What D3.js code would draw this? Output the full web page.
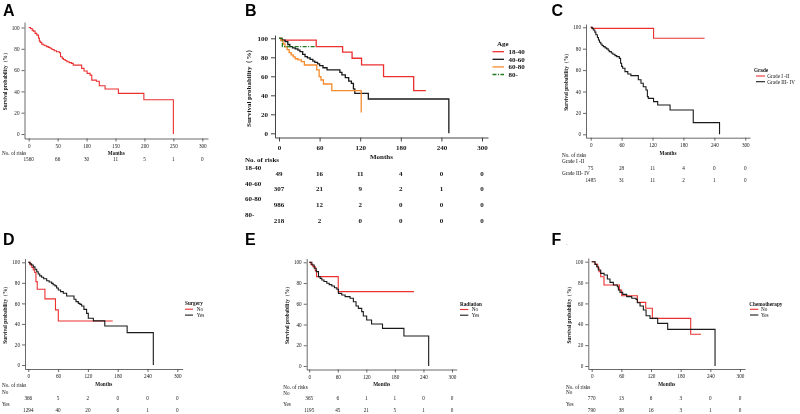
<!DOCTYPE html>
<html><head><meta charset="utf-8">
<script src="https://cdn.jsdelivr.net/npm/d3@7"></script>
<style>body{margin:0;background:#fff}svg{display:block;will-change:transform}svg text{opacity:0.99}</style>
</head><body>
<svg id="c" width="800" height="414"></svg>
<script>
// ---------- DATA ----------
const ticks50 = [0,50,100,150,200,250,300];
const ticks60 = [0,60,120,180,240,300];
const yTicks = [0,20,40,60,80,100];

// Panel A (overall)
const timeA = [0,3,6,8,11,14,17,18.4,20,22.5,25,28,31,34,37,40,44,48,53,55,58,60,63,66,70,74,77,91.5,95.6,101,106,109,117,122,132,155,199,250];
const survA = [100,99,97.5,96.6,94.5,92.8,90,87.2,86,84.4,83.5,82.8,82,81.3,80.5,79.4,78.2,77.2,76.3,72.5,71,70,69,67.8,67,66.3,64.7,61.6,59.1,56.9,55.3,50.6,49.5,45.3,42.2,38.1,32.2,0];
const riskA = ["1560","66","30","11","5","1","0"];

// Panel B (Age)
const timeB1 = [0,3,55,94,108,122,154.5,199,217];
const survB1 = [100,98,91.2,85.5,79,72,59.6,45,45];
const timeB2 = [0,4,9,13,16,20,24,28,31,35,38.5,42,46,50,53,57,60,65,71,90,93,98,103,107,110,112,132,251];
const survB2 = [100,98,96.5,93.5,91.2,90,88.8,87.5,86,83,80.7,79.5,77.9,76,74.7,73,71.2,69,66.7,64.2,61.4,58.6,55,52.6,46.7,42,36.1,0];
const timeB3 = [0,3,6,9,12,15,18,21,24,28,33,37.5,55.8,59.3,62,65.7,78,121.5];
const survB3 = [100,97.5,94,91,88,85,82.5,80.5,78.5,77.2,75.4,71.9,66.7,59.6,56.1,51.9,44.9,21.8];
const timeB4 = [0,5,55];
const survB4 = [100,91.2,91.2];
const groupsB = ["18-40","40-60","60-80","80-"];
const riskB = [["49","16","11","4","0","0"],["307","21","9","2","1","0"],["986","12","2","0","0","0"],["218","2","0","0","0","0"]];

// Panel C (Grade)
const timeC1 = [0,2,122,221];
const survC1 = [100,99,89.7,89.7];
const timeC2 = [0,3,5,8,10,13,15,17,19.5,22,24.5,28,31,34,36,40,43,47,50.5,55.5,58,60,62,66.5,72,78,92.4,97.6,102,107.3,110,111.8,122,130,154,199,250];
const survC2 = [100,99,97.5,95.5,93,90.5,88.2,86,84.4,83,81.9,80.8,79.8,78.5,77.3,76,74.8,73.5,72.6,71,66.4,63.5,61.7,58.6,56.4,54.8,51,47.7,44.5,41.4,35.2,33.6,30.5,27.4,22.7,10.9,0];
const groupsC = ["Grade I -II","Grade III- IV"];
const riskC = [["75","28","11","4","0","0"],["1485","31","11","2","1","0"]];

// Panel D (Surgery)
const timeD1 = [0,4,7,10,13,15.4,18,33.5,54.7,60.4,170];
const survD1 = [100,97.5,95,92.5,90,81.2,73.8,64.4,53.7,42.8,42.8];
const timeD2 = [0,3,6.7,10,13.4,17,20,23,26.8,31,37,42,47,50,53.7,57,60.4,65,70.5,77.2,92,96,100.7,104,107.4,112,117.4,120.8,131,154,199,251.7];
const survD2 = [100,98.5,97.4,95.5,93.2,90.8,88.6,86.8,85.4,84,82,80.8,79.5,78.2,77,75,73,71.4,69.8,67.2,64,61.7,60,59,57.5,54.2,50.3,45.5,43,38,31.5,0];
const groupsD = ["No","Yes"];
const riskD = [["366","5","2","0","0","0"],["1294","40","20","6","1","0"]];

// Panel E (Radiation)
const timeE1 = [0,3.5,7.7,12.6,15.4,61,220];
const survE1 = [100,98,95.8,92,86.2,71.7,71.7];
const timeE2 = [0,5.6,10.5,14.7,19.5,23,26.5,31,37,42,47.5,53,58,61.4,68.4,75.4,85.8,92.8,98.4,103.3,110.3,113.7,120.7,131,154,199,251];
const survE2 = [100,97.4,94.2,91,86.2,84.5,83,81.5,79.8,78.5,77.2,75.5,74,70,68.5,66.9,65.3,62,57.9,55.6,52.4,48.2,44.4,40.5,36.3,28.9,0];
const groupsE = ["No","Yes"];
const riskE = [["365","6","1","1","0","0"],["1195","45","21","5","1","0"]];

// Panel F (Chemotherapy)
const timeF1 = [0,6.7,12.1,14.8,18.2,24.9,56,60.7,92.4,109.2,122.7,200.3,221];
const survF1 = [100,97.4,94.2,90.4,85.6,77.6,72.8,67.4,61,55.3,45.7,30.4,30.4];
const timeF2 = [0,6.7,10.1,13.5,18.2,25,31.7,37,43.8,51.9,54,57.3,62.7,70.8,81,89.7,92.4,97.8,104.5,110,118,133.5,153.7,249.5];
const survF2 = [100,97.4,95.2,92,88.8,87.2,83.4,80.2,77.6,76,72.8,70.6,68.7,66.5,64.9,63.9,60.7,57.5,53.7,48.2,45.7,40.9,35.1,0];
const groupsF = ["No","Yes"];
const riskF = [["770","13","6","3","0","0"],["790","38","16","3","1","0"]];

// ---------- DRAW ----------
const svg = d3.select('#c');
const SERIF = '"Liberation Serif","Times New Roman",serif';
const SANS = '"Liberation Sans",Arial,sans-serif';
const RED = '#ec3030', BLACK = '#1a1a1a', ORANGE = '#f58b2e', GREEN = '#1f7a1f', AXIS = '#444';
const zip = (t,s) => t.map((v,i)=>[v,s[i]]);

function panel(o){
  const g = svg.append('g');
  const fs = o.fs, fw = o.bold ? 'bold' : 'normal';
  const x = d3.scaleLinear().domain([0,300]).range([o.x0,o.x300]);
  const y = d3.scaleLinear().domain([0,100]).range([o.y0,o.y100]);
  const xa = d3.scaleLinear().domain([x.invert(o.xL), x.invert(o.xR)]).range([o.xL,o.xR]);
  const ya = d3.scaleLinear().domain([y.invert(o.yB), y.invert(o.yT)]).range([o.yB,o.yT]);

  const gx = g.append('g').attr('transform',`translate(0,${o.yB})`)
    .call(d3.axisBottom(xa).tickValues(o.xticks).tickSize(o.tick).tickSizeOuter(0).tickPadding(o.xpad));
  const gy = g.append('g').attr('transform',`translate(${o.xL},0)`)
    .call(d3.axisLeft(ya).tickValues(yTicks).tickSize(o.tick).tickSizeOuter(0).tickPadding(o.ypad));
  [gx,gy].forEach(a=>{
    a.selectAll('path,line').attr('stroke',AXIS).attr('stroke-width',o.aw);
    a.selectAll('text').attr('font-family',SERIF).attr('font-size',fs).attr('font-weight',fw).attr('fill','#111');
  });

  // axis titles
  g.append('text').attr('x',(o.xL+o.xR)/2).attr('y',o.yB+o.mY).attr('dy','0.35em')
    .attr('text-anchor','middle').attr('font-family',SERIF).attr('font-size',fs).attr('font-weight','bold').attr('fill','#111').text('Months');
  g.append('text').attr('transform',`translate(${o.ytX},${(o.yT+o.yB)/2}) rotate(-90)`).attr('dy','0.35em')
    .attr('text-anchor','middle').attr('font-family',SERIF).attr('font-size',fs).attr('font-weight','bold').attr('fill','#111')
    .text('Survival probability（%）');

  // curves
  const line = d3.line().x(d=>x(d[0])).y(d=>y(d[1])).curve(d3.curveStepAfter);
  o.series.forEach(s=>{
    g.append('path').datum(zip(s.t,s.s)).attr('d',line).attr('fill','none')
      .attr('stroke',s.c).attr('stroke-width',o.lw).attr('stroke-dasharray',s.dash||null);
  });

  // legend
  if(o.legend){
    const L = o.legend;
    g.append('text').attr('x',L.x).attr('y',L.ty).attr('dy','0.35em').attr('font-family',SERIF)
      .attr('font-size',fs).attr('font-weight','bold').attr('fill','#111').text(L.title);
    L.items.forEach((name,i)=>{
      const yy = L.y0 + i*L.dy;
      g.append('line').attr('x1',L.lx1).attr('x2',L.lx2).attr('y1',yy).attr('y2',yy)
        .attr('stroke',o.series[i].c).attr('stroke-width',o.lw).attr('stroke-dasharray',o.series[i].dash||null);
      g.append('text').attr('x',L.tx).attr('y',yy).attr('dy','0.35em').attr('font-family',SERIF)
        .attr('font-size',fs).attr('font-weight',fw).attr('fill','#111').text(name);
    });
  }

  // risk table
  const R = o.risk;
  g.append('text').attr('x',R.x).attr('y',R.ty).attr('dy','0.35em').attr('font-family',SERIF)
    .attr('font-size',fs).attr('font-weight',fw).attr('fill','#111').text('No. of risks');
  R.rows.forEach((row,i)=>{
    if(R.labels) g.append('text').attr('x',R.x).attr('y',R.ly[i]).attr('dy','0.35em').attr('font-family',SERIF)
      .attr('font-size',fs).attr('font-weight',fw).attr('fill','#111').text(R.labels[i]);
    g.selectAll(null).data(row).enter().append('text')
      .attr('x',(d,j)=>x(o.xticks[j])).attr('y',R.ny[i]).attr('dy','0.35em').attr('text-anchor','middle')
      .attr('font-family',SERIF).attr('font-size',fs).attr('font-weight',fw).attr('fill','#111').text(d=>d);
  });

  // panel letter
  svg.append('text').attr('x',o.letter[1]).attr('y',o.letter[2]).attr('font-family',SANS)
    .attr('font-weight','bold').attr('font-size',16).attr('fill','#000').text(o.letter[0]);
}

const small = {fs:5.2, bold:false, tick:3, xpad:2.5, ypad:2, aw:0.8, lw:1.1, mY:15};

// A
panel(Object.assign({}, small, {
  x0:28.7, x300:202.3, xL:24.5, xR:208, y0:134, y100:27.5, yB:138.5, yT:22, ytX:5,
  xticks:ticks50,
  series:[{t:timeA,s:survA,c:RED}],
  risk:{x:2, ty:153.3, rows:[riskA], ny:[159.5]},
  letter:['A',3,16]
}));

// B
panel({
  fs:7, bold:true, tick:4, xpad:3.5, ypad:3, aw:1, lw:1.3, mY:19.2,
  x0:279, x300:482, xL:275, xR:488, y0:133.3, y100:38.3, yB:137.5, yT:35, ytX:249,
  xticks:ticks60,
  series:[{t:timeB1,s:survB1,c:RED},{t:timeB2,s:survB2,c:BLACK},{t:timeB3,s:survB3,c:ORANGE},{t:timeB4,s:survB4,c:GREEN,dash:'4,1.5,1,1.5'}],
  legend:{title:'Age', x:497, ty:44, y0:51.7, dy:7.6, lx1:492.5, lx2:504, tx:508.5, items:groupsB},
  risk:{x:245, ty:160, labels:groupsB, ly:[168,183.5,199,214.5], rows:riskB, ny:[173.5,189,205,220.5]},
  letter:['B',245,16]
});

// C
panel(Object.assign({}, small, {
  x0:590.7, x300:745.3, xL:586, xR:750, y0:134.3, y100:27.3, yB:137.7, yT:24, ytX:566,
  xticks:ticks60,
  series:[{t:timeC1,s:survC1,c:RED},{t:timeC2,s:survC2,c:BLACK}],
  legend:{title:'Grade', x:754, ty:70, y0:76, dy:5.7, lx1:756, lx2:765, tx:767.3, items:groupsC},
  risk:{x:562, ty:155.3, labels:groupsC, ly:[160.8,173.4], rows:riskC, ny:[168.3,180]},
  letter:['C',551.5,16]
}));

// D
panel(Object.assign({}, small, {
  x0:28.3, x300:177.3, xL:25, xR:182.7, y0:365, y100:262.3, yB:369, yT:258.5, ytX:5,
  xticks:ticks60,
  series:[{t:timeD1,s:survD1,c:RED},{t:timeD2,s:survD2,c:BLACK}],
  legend:{title:'Surgery', x:185, ty:303.3, y0:309.2, dy:5.9, lx1:185, lx2:193, tx:196.7, items:groupsD},
  risk:{x:2, ty:385.3, labels:groupsD, ly:[391.7,404], rows:riskD, ny:[397.8,410]},
  letter:['D',3,244.5]
}));

// E
panel(Object.assign({}, small, {
  x0:309.2, x300:452, xL:306.7, xR:456.7, y0:366, y100:262.3, yB:369.5, yT:258.5, ytX:286.7,
  xticks:ticks60,
  series:[{t:timeE1,s:survE1,c:RED},{t:timeE2,s:survE2,c:BLACK}],
  legend:{title:'Radiation', x:460, ty:304.3, y0:309.5, dy:5.7, lx1:460, lx2:468.3, tx:471.7, items:groupsE},
  risk:{x:283.3, ty:387.5, labels:groupsE, ly:[393.3,404.3], rows:riskE, ny:[398.3,410]},
  letter:['E',245,244.5]
}));

// F
panel(Object.assign({}, small, {
  x0:591.7, x300:740, xL:588.3, xR:745, y0:366, y100:261.7, yB:369, yT:258, ytX:569.3,
  xticks:ticks60,
  series:[{t:timeF1,s:survF1,c:RED},{t:timeF2,s:survF2,c:BLACK}],
  legend:{title:'Chemotherapy', x:749.3, ty:303.7, y0:309.3, dy:5.7, lx1:750, lx2:758.3, tx:761, items:groupsF},
  risk:{x:566, ty:387, labels:groupsF, ly:[392.3,404.3], rows:riskF, ny:[398.3,410]},
  letter:['F',551.5,244.5]
}));
svg.append('text').attr('x',566).attr('y',245).attr('font-family',SANS).attr('font-size',6).attr('fill','#555').text('.');
</script>
</body></html>
